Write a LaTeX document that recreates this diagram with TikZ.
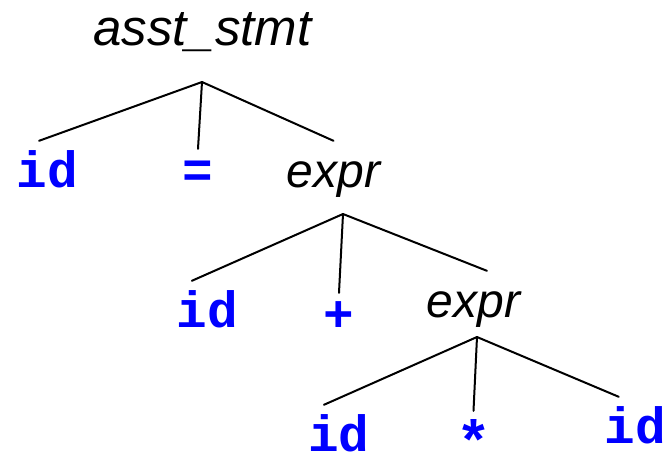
\documentclass[tikz,border=0pt]{standalone}
\usepackage{fontspec}
\newfontfamily\labfont{Liberation Sans}
\newfontfamily\tokfont{Liberation Mono}
\definecolor{tokBlue}{HTML}{0000FF}
\tikzset{
  x=1pt, y=-1pt,
  lab/.style={font=\labfont\itshape\fontsize{48}{56}\selectfont, inner sep=0pt,
              text height=46pt, text depth=0pt, anchor=base},
  tok/.style={font=\tokfont\bfseries\fontsize{51}{60}\selectfont, text=tokBlue,
              inner sep=0pt, text height=46pt, text depth=0pt, anchor=base},
  op/.style={tok, text height=38pt},
  edge/.style={line width=2pt, line cap=round},
}

\begin{document}
\begin{tikzpicture}
  \useasboundingbox (0,0) rectangle (667,451);
  % root
  \node[lab, font=\labfont\itshape\fontsize{51}{60}\selectfont] (stmt) at (202.5,45) {asst\_stmt};
  \coordinate (stmtJ) at (202,82);
  % first level
  \node[tok] (id1) at (47.5,187) {id};
  \node[op] (eq) at (198,187) {=};
  \node[lab] (ex1) at (333.5,187) {expr};
  \draw[edge] (stmtJ) -- (id1.110);
  \draw[edge] (stmtJ) -- (eq.north);
  \draw[edge] (stmtJ) -- (ex1.north);
  % second level
  \coordinate (ex1J) at (343,214);
  \node[tok] (id2) at (207.5,327) {id};
  \node[op] (plus) at (339,331) {+};
  \node[lab] (ex2) at (473.5,317) {expr};
  \draw[edge] (ex1J) -- (id2.124);
  \draw[edge] (ex1J) -- (plus.north);
  \draw[edge] (ex1J) -- (ex2.60);
  % third level
  \coordinate (ex2J) at (477,337);
  \node[tok] (id3) at (339,451) {id};
  \node[op, text height=50pt, font=\tokfont\bfseries\fontsize{58}{64}\selectfont] (star) at (473.5,461) {*};
  \node[tok] (id4) at (635,443) {id};
  \draw[edge] (ex2J) -- (id3.123);
  \draw[edge] (ex2J) -- (star.north);
  \draw[edge] (ex2J) -- (id4.125);
\end{tikzpicture}
\end{document}
